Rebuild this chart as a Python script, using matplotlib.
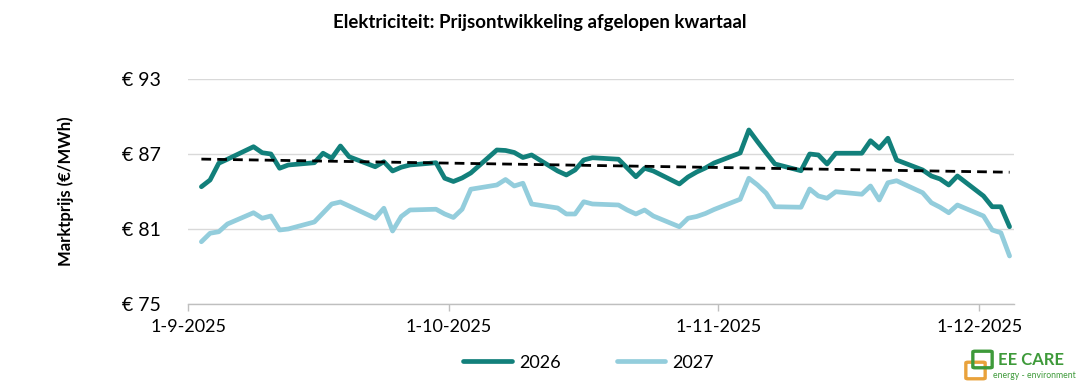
import matplotlib
matplotlib.use("Agg")
import matplotlib.pyplot as plt
import matplotlib.dates as mdates
from matplotlib.patches import FancyBboxPatch
import numpy as np
import pandas as pd

# ---- data ----
dates = pd.bdate_range("2025-09-02", "2025-12-04")
prices_2026 = [
    84.38, 84.92, 86.26, 86.58, 87.58, 87.10, 87.00, 85.86, 86.12, 86.30, 87.06,
    86.66, 87.64, 86.78, 85.98, 86.38, 85.64, 85.94, 86.12, 86.30, 85.06,
    84.80, 85.08, 85.48, 87.32, 87.28, 87.12, 86.72, 86.92, 85.64, 85.32, 85.72,
    86.52, 86.70, 86.58, 85.88, 85.18, 85.86, 85.64, 84.60, 85.16, 85.56, 85.88, 86.28,
    87.08, 88.92, 87.98, 87.08, 86.20, 85.66, 87.00, 86.92, 86.20, 87.06,
    87.06, 88.06, 87.46, 88.26, 86.52, 85.72, 85.24, 85.00, 84.52, 85.24,
    83.64, 82.78, 82.78, 81.18,
]
prices_2027 = [
    79.98, 80.66, 80.78, 81.40, 82.30, 81.86, 82.04, 80.92, 81.00, 81.56, 82.28,
    83.00, 83.16, 82.84, 81.86, 82.66, 80.84, 82.00, 82.52, 82.58, 82.20,
    81.92, 82.58, 84.18, 84.52, 84.96, 84.44, 84.66, 83.00, 82.68, 82.20, 82.20,
    83.18, 83.00, 82.92, 82.52, 82.20, 82.52, 82.04, 81.18, 81.86, 82.00, 82.24, 82.56,
    83.38, 85.06, 84.52, 83.86, 82.78, 82.74, 84.20, 83.64, 83.46, 83.98,
    83.78, 84.44, 83.32, 84.70, 84.86, 83.90, 83.10, 82.74, 82.30, 82.92,
    82.04, 80.92, 80.70, 78.84,
]
series_labels = ["2026", "2027"]
y_ticks = [75, 81, 87, 93]
x_tick_dates = pd.to_datetime(["2025-09-01", "2025-10-01", "2025-11-01", "2025-12-01"])

title = "Elektriciteit: Prijsontwikkeling afgelopen kwartaal"
ylabel = "Marktprijs (€/MWh)"

c2026 = "#12807B"
c2027 = "#93CDDC"
grid_c = "#D9D9D9"
axis_c = "#BFBFBF"

plt.rcParams["font.family"] = ["Lato", "DejaVu Sans"]

fig = plt.figure(figsize=(10.8, 3.89), dpi=100)
ax = fig.add_axes([0.1744, 0.2185, 0.9388 - 0.1744, 0.797 - 0.2185])

xpos = dates + pd.Timedelta(hours=12)
ax.plot(xpos, prices_2026, color=c2026, lw=3.4, solid_joinstyle="round",
        solid_capstyle="round", label=series_labels[0], zorder=3)
ax.plot(xpos, prices_2027, color=c2027, lw=3.4, solid_joinstyle="round",
        solid_capstyle="round", label=series_labels[1], zorder=2)

# linear trend of 2026
xnum = mdates.date2num(xpos)
k, b = np.polyfit(xnum, prices_2026, 1)
ax.plot(xpos, k * xnum + b, color="black", lw=2.0, ls=(0, (3.5, 2.2)), zorder=4)

ax.set_xlim(mdates.date2num(pd.Timestamp("2025-09-01")),
            mdates.date2num(pd.Timestamp("2025-12-05")))
ax.set_ylim(75, 93)
ax.set_yticks(y_ticks)
ax.set_yticklabels([f"€ {v}" for v in y_ticks], fontsize=14)
ax.set_xticks(mdates.date2num(x_tick_dates))
ax.set_xticklabels([f"{d.day}-{d.month}-{d.year}" for d in x_tick_dates], fontsize=13)

ax.grid(axis="y", color=grid_c, lw=1.0)
ax.set_axisbelow(True)
for s in ["left", "right", "top"]:
    ax.spines[s].set_visible(False)
ax.spines["bottom"].set_color(axis_c)
ax.spines["bottom"].set_linewidth(1.0)
ax.tick_params(axis="y", length=0, pad=20)
ax.tick_params(axis="x", length=5, color=axis_c, width=1.0, pad=6)

ax.set_ylabel(ylabel, fontsize=12, fontweight="bold", labelpad=34)
fig.text(0.5, 0.942, title, ha="center", va="center", fontsize=13.4, fontweight="bold")

leg = fig.legend(loc="center", bbox_to_anchor=(0.545, 0.068), ncol=2, frameon=False,
                 fontsize=13, handlelength=2.7, columnspacing=3.1, handletextpad=0.4)

# logo
tr = fig.transFigure
sq1 = FancyBboxPatch((968 / 1080, 1 - 378 / 389), 15 / 1080, 15 / 389,
                     boxstyle="round,pad=0.002", fill=False, ec="#E9A23B", lw=2.4,
                     transform=tr, zorder=1)
sq2 = FancyBboxPatch((975 / 1080, 1 - 367 / 389), 15 / 1080, 15 / 389,
                     boxstyle="round,pad=0.002", fill=False, ec="#3E9A3A", lw=2.4,
                     transform=tr, zorder=2)
fig.patches.extend([sq1, sq2])
fig.text(998 / 1080, 1 - 360 / 389, "EE CARE", color="#3E9A3A", fontsize=12,
         fontweight="bold", ha="left", va="center")
fig.text(993 / 1080, 1 - 376 / 389, "energy - environment", color="#3E9A3A",
         fontsize=6.2, ha="left", va="center")

fig.savefig("out.png", dpi=100)
